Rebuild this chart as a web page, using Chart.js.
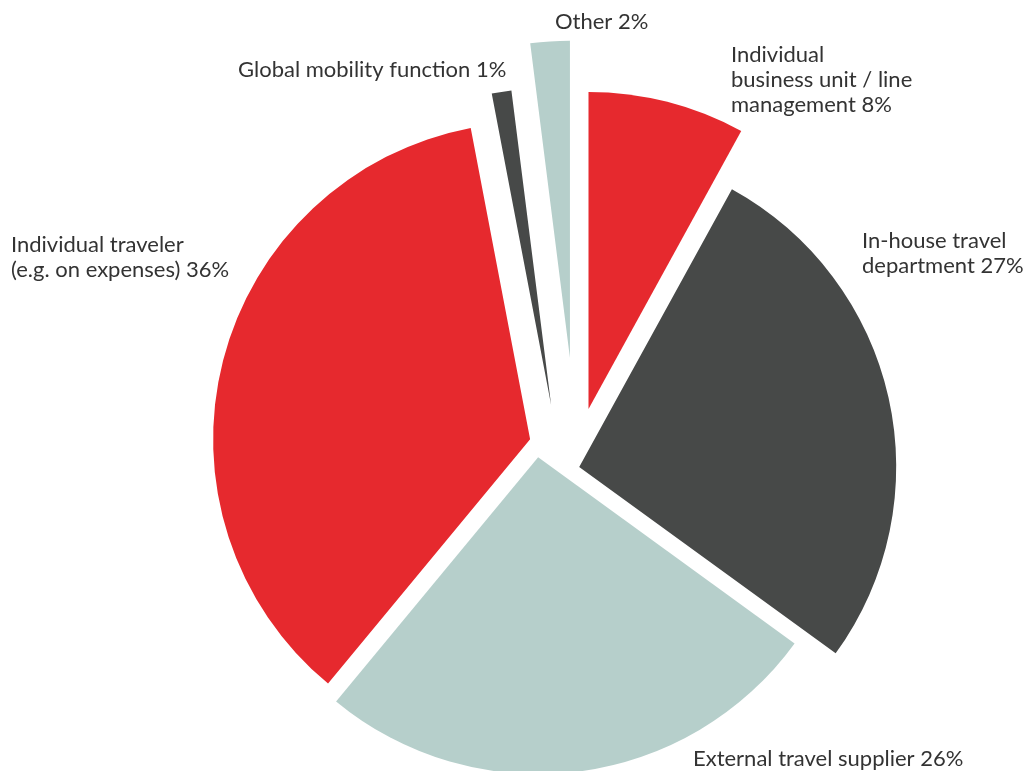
<!DOCTYPE html>
<html>
<head>
<meta charset="utf-8">
<script src="https://cdn.jsdelivr.net/npm/chart.js@4"></script>
<style>
  html, body { margin: 0; padding: 0; background: #fff; }
  #wrap { width: 1026px; height: 771px; }
</style>
</head>
<body>
<div id="wrap"><canvas id="travelPie" width="1026" height="771"></canvas></div>
<script>
// who books the trip - share of answers, clockwise from 12 o'clock
const categories = [
  ['Individual', 'business unit / line', 'management'],
  ['In-house travel', 'department'],
  ['External travel supplier'],
  ['Individual traveler', '(e.g. on expenses)'],
  ['Global mobility function'],
  ['Other']
]
const shares = [8, 27, 26, 36, 1, 2]

const red = '#e6292e'
const grey = '#474948'
const sage = '#b6cfcb'
const sliceColors = [red, grey, sage, red, grey, sage]

// how far each slice is pulled out from the middle (px), and nudged sideways (clockwise)
const pullOut = [53, 21, 0, 28, 50, 96]
const nudge = [21, 17, 17, 9, 4, 21]

// where each label starts (left edge, first baseline)
const labelSpots = [[731, 62], [862, 248], [693, 766], [11, 252], [238, 77], [555, 29]]
const lineStep = 25

// moves every arc after chart.js has laid them out
const explodePlugin = {
  id: 'explode',
  afterDatasetUpdate(chart, args) {
    args.meta.data.forEach((arc, i) => {
      const mid = (arc.startAngle + arc.endAngle) / 2
      const r = pullOut[i] || 0
      const t = nudge[i] || 0
      arc.x += Math.cos(mid) * r - Math.sin(mid) * t
      arc.y += Math.sin(mid) * r + Math.cos(mid) * t
    })
  }
}

// text next to the slices
const labelPlugin = {
  id: 'sliceLabels',
  afterDraw(chart) {
    const ctx = chart.ctx
    ctx.save()
    ctx.font = '22px Lato, "Open Sans", sans-serif'
    ctx.fillStyle = '#333333'
    ctx.textAlign = 'left'
    ctx.textBaseline = 'alphabetic'
    categories.forEach((lines, i) => {
      const [x, y] = labelSpots[i]
      lines.forEach((line, j) => {
        let txt = line
        if (j === lines.length - 1) txt += ' ' + shares[i] + '%'
        ctx.fillText(txt, x, y + j * lineStep)
      })
    })
    ctx.restore()
  }
}

const ctx = document.getElementById('travelPie').getContext('2d')
const travelPie = new Chart(ctx, {
  type: 'pie',
  data: {
    labels: categories,
    datasets: [{
      data: shares,
      backgroundColor: sliceColors,
      borderWidth: 0,
      radius: 317
    }]
  },
  options: {
    responsive: false,
    animation: false,
    events: [],
    layout: { padding: { left: 84, right: 0, top: 139, bottom: 0 } },
    plugins: {
      legend: { display: false },
      tooltip: { enabled: false }
    }
  },
  plugins: [explodePlugin, labelPlugin]
})
</script>
</body>
</html>
